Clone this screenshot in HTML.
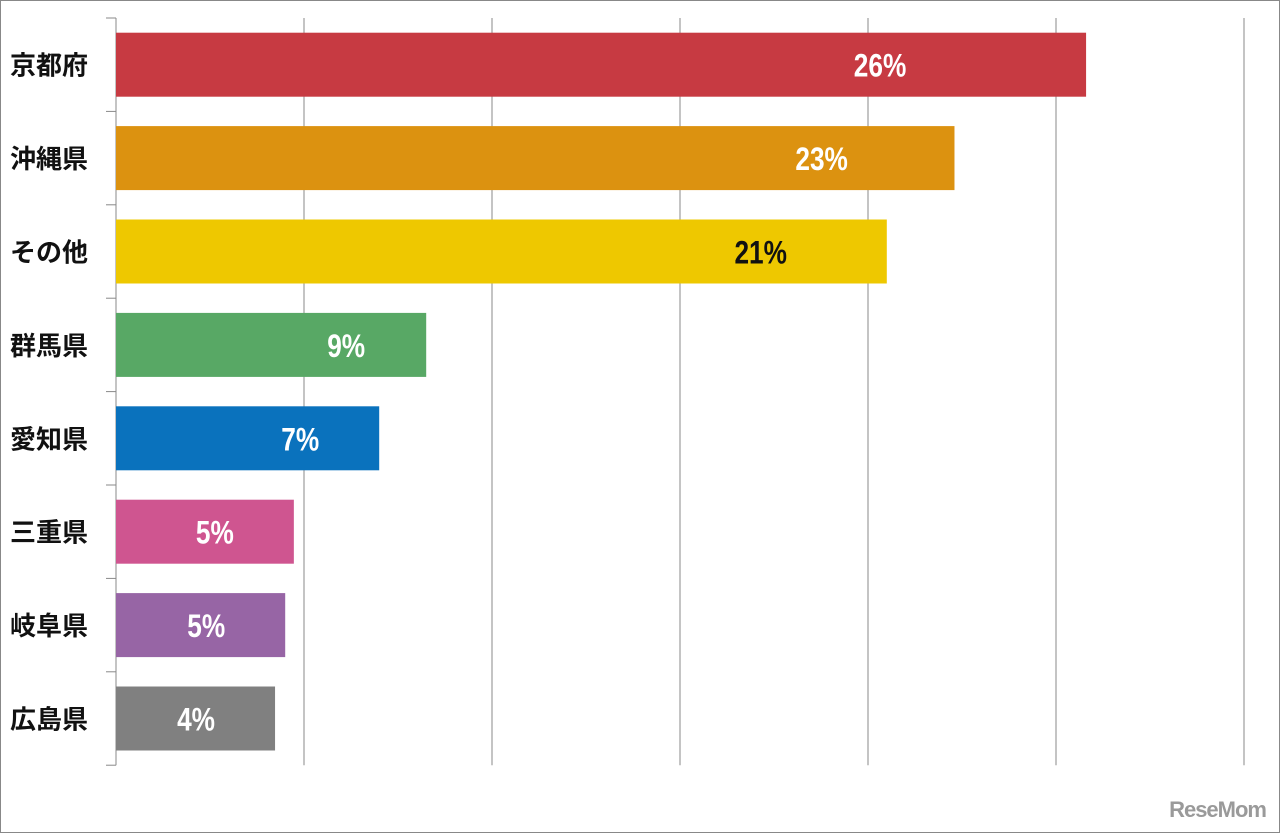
<!DOCTYPE html>
<html><head><meta charset="utf-8"><style>
body{margin:0;background:#fff;width:1280px;height:833px;overflow:hidden;font-family:"Liberation Sans","Noto Sans CJK JP",sans-serif;}
#frame{position:absolute;left:0;top:0;width:1278px;height:831px;border:1px solid #888;}
</style></head><body>
<div id="frame"></div>
<svg id="chart" width="1280" height="833" style="position:absolute;left:0;top:0"></svg>
<div style="position:absolute;right:14px;bottom:10px;font:bold 22px 'Liberation Sans',sans-serif;color:#9a9a9a;letter-spacing:-1px">ReseMom</div>
<script>
const categories=["京都府","沖縄県","その他","群馬県","愛知県","三重県","岐阜県","広島県"];
const values=[25.8,22.3,20.5,8.25,7.0,4.73,4.5,4.23];
const labels=["26%","23%","21%","9%","7%","5%","5%","4%"];
const colors=["#c73a42","#dc9210","#eec800","#58a865","#0a72bd","#cf5590","#9765a5","#808080"];
const ticks=[0,5,10,15,20,25,30];
const svg=document.getElementById('chart');
const NS='http://www.w3.org/2000/svg';
const x0=116,xMax=1244,vMax=30,yTop=18,band=93.4;
const xs=v=>x0+(v/vMax)*(xMax-x0);
const yb=i=>yTop+i*band;
function mk(t,a){const e=document.createElementNS(NS,t);for(const k in a)e.setAttribute(k,a[k]);svg.appendChild(e);return e;}
ticks.forEach((t,i)=>{if(i===0)return;const l=mk('line',{x1:xs(t),x2:xs(t),y1:yTop,y2:yTop+band*8,stroke:'#888','stroke-width':1});

});
const ax=mk('line',{x1:x0,x2:x0,y1:yTop,y2:yTop+band*8,stroke:'#888'});


for(let i=0;i<=8;i++){const tk=mk('line',{x1:x0-10,x2:x0,y1:yb(i),y2:yb(i),stroke:'#888'});

}
categories.forEach((c,i)=>{
const cy=yb(i)+band/2;
const r=mk('rect',{x:x0,y:cy-32,width:xs(values[i])-x0,height:64,fill:colors[i]});


const t=mk('text',{x:10,y:cy+10,'font-size':26,'font-weight':'bold',fill:'#111'});t.textContent=c;


const end=xs(values[i]);const w=end-x0;
const lx=end-79-Math.max(0,w-300)*0.1-Math.max(0,w-850)*0.5;
const v=mk('text',{x:lx,y:cy+12,'font-size':32,'font-weight':'bold','text-anchor':'middle',fill:i===2?'#111':'#fff',transform:`translate(${lx},0) scale(0.82,1) translate(${-lx},0)`});v.textContent=labels[i];


});
</script>
</body></html>
